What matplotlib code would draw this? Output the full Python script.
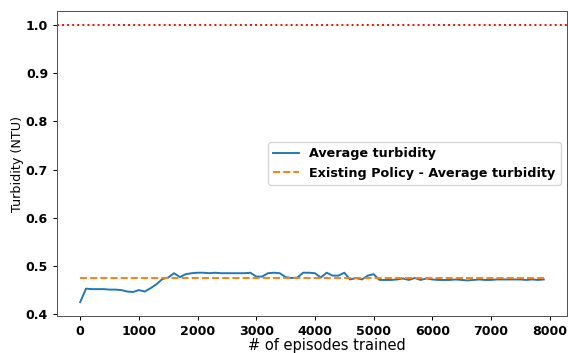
import matplotlib
matplotlib.use("Agg")
import matplotlib.pyplot as plt
import numpy as np

episodes = list(range(0, 8000, 100))
avg_turbidity = [
    0.425, 0.453, 0.452, 0.452, 0.452, 0.451, 0.451, 0.450, 0.447, 0.446,
    0.450, 0.447, 0.454, 0.462, 0.473, 0.476, 0.485, 0.477, 0.483, 0.485,
    0.486, 0.486, 0.485, 0.486, 0.485, 0.485, 0.485, 0.485, 0.485, 0.486,
    0.478, 0.478, 0.485, 0.486, 0.485, 0.477, 0.475, 0.476, 0.486, 0.486,
    0.485, 0.476, 0.486, 0.480, 0.480, 0.486, 0.472, 0.475, 0.472, 0.480,
    0.483, 0.471, 0.471, 0.471, 0.472, 0.474, 0.471, 0.475, 0.471, 0.474,
    0.472, 0.471, 0.471, 0.471, 0.472, 0.471, 0.470, 0.471, 0.472, 0.471,
    0.471, 0.472, 0.472, 0.472, 0.472, 0.472, 0.471, 0.472, 0.471, 0.472,
]
existing_policy_avg = 0.475
turbidity_limit = 1.0
x_ticks = [0, 1000, 2000, 3000, 4000, 5000, 6000, 7000, 8000]
y_ticks = [0.4, 0.5, 0.6, 0.7, 0.8, 0.9, 1.0]

s = 0.92
plt.rcParams.update({
    'font.size': 10 * s,
    'xtick.major.size': 3.5 * s, 'ytick.major.size': 3.5 * s,
    'xtick.major.pad': 3.5 * s, 'ytick.major.pad': 3.5 * s,
    'xtick.major.width': 0.8 * s, 'ytick.major.width': 0.8 * s,
    'axes.linewidth': 0.8 * s,
    'lines.linewidth': 1.5 * s,
})

fig = plt.figure(figsize=(5.68, 3.53), dpi=100)
ax = fig.add_axes([57/568, 37/353, 510/568, 305/353])

ax.plot(episodes, avg_turbidity, color='#1f77b4', label='Average turbidity')
ax.plot([episodes[0], episodes[-1]], [existing_policy_avg]*2, '--', color='#ff7f0e',
        label='Existing Policy - Average turbidity')
ax.axhline(turbidity_limit, color='red', linestyle=':')

ax.set_xticks(x_ticks)
ax.set_yticks(y_ticks)
for lab in ax.get_xticklabels() + ax.get_yticklabels():
    lab.set_fontweight('bold')
    lab.set_fontsize(9.1)
ax.set_xlabel('# of episodes trained', fontsize=10.5)
ax.xaxis.set_label_coords(0.5 + (327 - 312) / 510, -0.071)
ax.set_ylabel('Turbidity (NTU)', fontsize=9.2)
ax.yaxis.set_label_coords(-0.064, 0.5)
for sp in ax.spines.values():
    sp.set_color('#555555')
ax.legend(loc='center right', prop={'weight': 'bold', 'size': 9.2})

fig.savefig('out.png', dpi=100)
